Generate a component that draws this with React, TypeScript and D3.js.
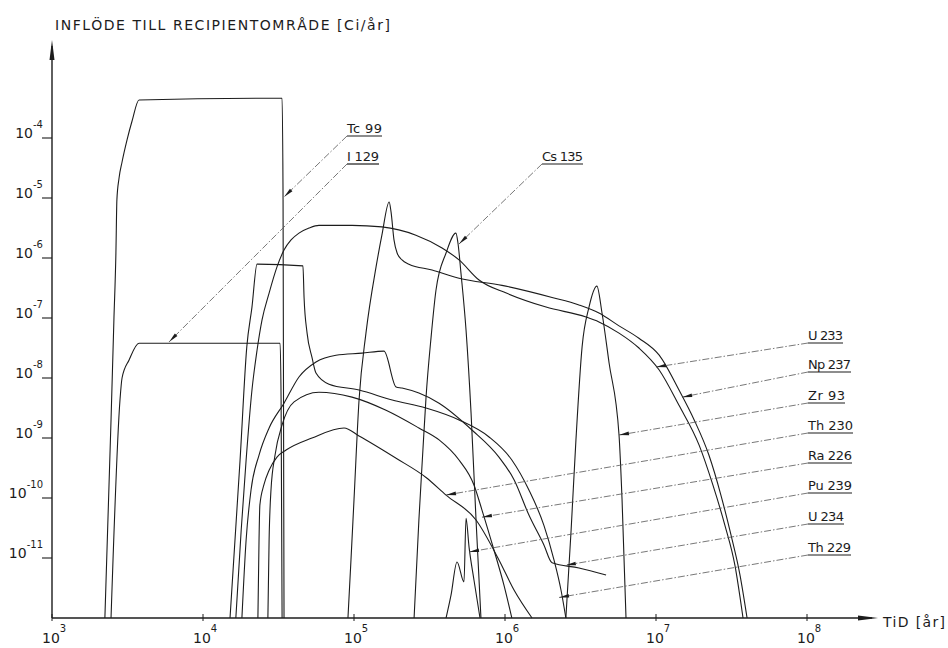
import React from "react";
import * as d3 from "d3";

type Pt = [number, number];

// [tid (år), inflöde (Ci/år)]
const tc99: Pt[] = [
  [2.24e3, 1e-12], [2.46e3, 2.0e-9], [2.57e3, 9.3e-8], [2.65e3, 1.21e-6],
  [2.69e3, 9.3e-6], [2.78e3, 2.15e-5], [2.91e3, 3.98e-5], [3.14e3, 9.3e-5],
  [3.39e3, 1.92e-4], [3.77e3, 4.3e-4], [3.34e4, 4.6e-4], [3.39e4, 9.3e-6],
  [3.44e4, 1e-12],
];
const i129: Pt[] = [
  [2.46e3, 1e-12], [2.82e3, 4.3e-9], [2.91e3, 1e-8], [3.24e3, 2.0e-8],
  [3.77e3, 3.8e-8], [3.24e4, 3.8e-8], [3.29e4, 4.3e-9], [3.34e4, 1e-12],
];
const cs135: Pt[] = [
  [2.5e5, 1e-12], [2.69e5, 4.3e-11], [2.86e5, 6.3e-10], [3.0e5, 4.8e-9],
  [3.24e5, 4.8e-8], [3.49e5, 2.9e-7], [4.07e5, 1.21e-6], [4.73e5, 2.6e-6],
  [4.88e5, 1.78e-6], [5.11e5, 5.6e-7], [5.52e5, 6.3e-8], [5.96e5, 2.6e-9],
  [6.43e5, 4.3e-11], [6.93e5, 1e-12],
];
const u233: Pt[] = [
  [9.12e4, 1e-12], [9.55e4, 9.3e-12], [1.0e5, 9.3e-11], [1.08e5, 4.3e-9],
  [1.2e5, 5.6e-8], [1.4e5, 7.1e-7], [1.53e5, 2.4e-6], [1.71e5, 8.6e-6],
  [1.76e5, 5.8e-6], [1.84e5, 2.0e-6], [1.93e5, 1.21e-6], [2.08e5, 9.3e-7],
  [2.31e5, 7.9e-7], [3.29e5, 6.3e-7], [4.96e5, 4.6e-7], [9.55e5, 3.5e-7],
  [2.05e6, 2.2e-7], [3.09e6, 1.65e-7], [4.19e6, 1.21e-7], [5.69e6, 7.4e-8],
  [7.71e6, 4.6e-8], [1.05e7, 2.4e-8], [1.42e7, 6.3e-9], [1.79e7, 2.0e-9],
  [2.24e7, 5.2e-10], [2.69e7, 1.12e-10], [3.14e7, 2.4e-11], [3.6e7, 5.2e-12],
  [4.01e7, 1e-12],
];
const np237: Pt[] = [
  [1.65e4, 1e-12], [1.79e4, 2.9e-11], [1.93e4, 4.3e-10], [2.11e4, 6.3e-9],
  [2.28e4, 2.9e-8], [2.46e4, 9.3e-8], [2.74e4, 2.6e-7], [3.09e4, 7.1e-7],
  [3.44e4, 1.36e-6], [3.83e4, 2.0e-6], [4.32e4, 2.6e-6], [5.04e4, 3.16e-6],
  [5.86e4, 3.5e-6], [9.7e4, 3.5e-6], [1.53e5, 3.3e-6], [2.57e5, 2.4e-6],
  [3.83e5, 1.47e-6], [4.96e5, 9.3e-7], [6.73e5, 4.3e-7], [1.02e6, 2.6e-7],
  [1.87e6, 1.52e-7], [3.44e6, 1.04e-7], [4.19e6, 8.6e-8], [5.69e6, 5.6e-8],
  [7.71e6, 3.16e-8], [1.05e7, 1.36e-8], [1.42e7, 3.5e-9], [1.93e7, 7.6e-10],
  [2.38e7, 1.65e-10], [2.86e7, 3.5e-11], [3.33e7, 7.6e-12], [3.77e7, 1e-12],
];
const zr93: Pt[] = [
  [2.53e6, 1e-12], [2.74e6, 2.9e-11], [2.95e6, 9.3e-10], [3.24e6, 3.3e-8],
  [3.6e6, 1.52e-7], [4.06e6, 3.4e-7], [4.39e6, 1.21e-7], [4.89e6, 1.78e-8],
  [5.69e6, 1.12e-9], [5.96e6, 9.3e-11], [6.33e6, 1e-12],
];
const th230: Pt[] = [
  [2.31e4, 1e-12], [2.35e4, 2.0e-11], [2.38e4, 7.6e-11], [2.53e4, 1.65e-10],
  [2.74e4, 2.9e-10], [3.09e4, 4.8e-10], [3.55e4, 6.3e-10], [5.27e4, 1.0e-9],
  [8.59e4, 1.47e-9], [1.08e5, 1.08e-9], [1.9e5, 4.6e-10], [3.0e5, 2.2e-10],
  [4.07e5, 1.12e-10], [6.43e5, 4.3e-11], [9.12e5, 9.3e-12], [1.15e6, 2.9e-12],
  [1.51e6, 1e-12],
];
const ra226: Pt[] = [
  [2.69e4, 1e-12], [2.74e4, 2.0e-11], [2.82e4, 1.36e-10], [3.0e4, 5.2e-10],
  [3.34e4, 1.65e-9], [4.01e4, 4.0e-9], [5.86e4, 5.8e-9], [9.7e4, 4.8e-9],
  [1.63e5, 2.9e-9], [2.69e5, 1.47e-9], [3.66e5, 9.3e-10], [4.96e5, 4.3e-10],
  [6.23e5, 1.65e-10], [7.04e5, 6.3e-11], [8.45e5, 1.36e-11], [9.85e5, 3.5e-12],
  [1.11e6, 1e-12],
];
const pu239: Pt[] = [
  [4.07e5, 1e-12], [4.39e5, 2.4e-12], [4.81e5, 8.6e-12], [5.35e5, 4.0e-12],
  [5.52e5, 4.6e-11], [5.78e5, 1.52e-11], [6.23e5, 4.3e-12], [6.83e5, 1e-12],
];
const u234: Pt[] = [
  [1.81e4, 1e-12], [1.93e4, 2.0e-11], [2.08e4, 1.36e-10], [2.35e4, 5.2e-10],
  [2.74e4, 1.47e-9], [3.44e4, 3.8e-9], [4.32e4, 1.04e-8], [5.6e4, 1.85e-8],
  [7.6e4, 2.4e-8], [1.13e5, 2.6e-8], [1.58e5, 2.8e-8], [1.9e5, 7.1e-9],
  [2.08e5, 6.8e-9], [2.69e5, 5.6e-9], [3.66e5, 3.8e-9], [6.04e5, 1.36e-9],
  [9.12e5, 4.8e-10], [1.15e6, 2.0e-10], [1.44e6, 5.2e-11], [1.81e6, 1.65e-11],
  [2.05e6, 8.3e-12], [3.09e6, 6.8e-12], [4.67e6, 5.2e-12],
];
const th229: Pt[] = [
  [1.51e4, 1e-12], [1.76e4, 4.3e-10], [1.95e4, 3.3e-8], [2.11e4, 1.52e-7],
  [2.28e4, 7.9e-7], [4.59e4, 7.4e-7], [4.67e4, 2.2e-7], [4.89e4, 5.6e-8],
  [5.27e4, 2.2e-8], [5.6e4, 1.21e-8], [6.83e4, 7.9e-9], [1.08e5, 6.3e-9],
  [1.79e5, 4.3e-9], [3.0e5, 3.16e-9], [4.96e5, 2.0e-9], [7.84e5, 1.04e-9],
  [1.11e6, 4.3e-10], [1.44e6, 1.36e-10], [1.81e6, 3.5e-11], [2.11e6, 9.3e-12],
  [2.35e6, 2.9e-12], [2.53e6, 1e-12],
];

const curves = [tc99, i129, cs135, u233, np237, zr93, th230, ra226, pu239, u234, th229];

const nuclides = [
  "Tc 99", "I 129", "Cs 135", "U 233", "Np 237", "Zr 93",
  "Th 230", "Ra 226", "Pu 239", "U 234", "Th 229",
];
// pilspetsarnas mål på kurvorna
const arrowTargets: Pt[] = [
  [3.44e4, 1.04e-5], [5.96e3, 4.0e-8], [4.96e5, 1.71e-6], [1.0e7, 1.52e-8],
  [1.49e7, 4.8e-9], [5.69e6, 1.12e-9], [4.07e5, 1.12e-10], [7.04e5, 4.8e-11],
  [5.78e5, 1.26e-11], [2.53e6, 7.6e-12], [2.28e6, 2.2e-12],
];

const xTickValues = [1e3, 1e4, 1e5, 1e6, 1e7, 1e8];
const xTickExps = ["3", "4", "5", "6", "7", "8"];
const yTickValues = [1e-4, 1e-5, 1e-6, 1e-7, 1e-8, 1e-9, 1e-10, 1e-11];
const yTickExps = ["-4", "-5", "-6", "-7", "-8", "-9", "-10", "-11"];

// etikettplacering (px): x, baslinje, bredd
const labelLayout = [
  [347, 133, 35], [347, 161, 32], [542, 161, 41],
  [808, 340, 35], [808, 369, 43], [808, 400, 37], [808, 430, 45],
  [808, 460, 44], [808, 490, 44], [808, 521, 36], [808, 552, 43],
];

function App() {
  const width = 948;
  const height = 648;
  const font = "DejaVu Sans, sans-serif";
  const ink = "#1c1c1c";

  const x = d3.scaleLog().domain([1e3, 1e8]).range([52, 807]);
  const y = d3.scaleLog().domain([1e-12, 1e-3]).range([618, 78]);
  const x0 = x(1e3);
  const y0 = y(1e-12);

  // handritade kurvor: mjuk men utan översväng
  const line = d3
    .line<Pt>()
    .x((d) => x(d[0]))
    .y((d) => y(d[1]))
    .curve(d3.curveMonotoneX);

  return (
    <svg
      width={width}
      height={height}
      style={{ position: "absolute", left: 0, top: 0, background: "#fff" }}
      fontFamily={font}
    >
      <text x={55} y={30} fontSize={14} fill={ink} textLength={335} lengthAdjust="spacing">
        INFLÖDE TILL RECIPIENTOMRÅDE [Ci/år]
      </text>

      <g fill="none" stroke={ink} strokeWidth={1.1} strokeLinejoin="round">
        {curves.map((c, i) => (
          <path key={i} d={line(c) ?? ""} />
        ))}
      </g>

      <g>
        {nuclides.map((name, i) => {
          const [lx, ly, lw] = labelLayout[i];
          const sx = lx;
          const sy = ly + 3;
          const tx = x(arrowTargets[i][0]);
          const ty = y(arrowTargets[i][1]);
          const dx = tx - sx;
          const dy = ty - sy;
          const len = Math.hypot(dx, dy);
          const ux = dx / len;
          const uy = dy / len;
          const bx = tx - ux * 10;
          const by = ty - uy * 10;
          const head = `M${tx},${ty}L${bx - uy * 1.8},${by + ux * 1.8}L${bx + uy * 1.8},${by - ux * 1.8}Z`;
          return (
            <g key={name}>
              <line
                x1={sx}
                y1={sy}
                x2={tx}
                y2={ty}
                stroke="#555"
                strokeWidth={0.8}
                strokeDasharray="7 2 1.5 2"
              />
              <path d={head} fill={ink} />
              <line x1={lx} y1={sy} x2={lx + lw} y2={sy} stroke={ink} strokeWidth={1.2} />
              <text x={lx} y={ly} fontSize={13} fill={ink} textLength={lw} lengthAdjust="spacing">
                {name}
              </text>
            </g>
          );
        })}
      </g>

      <g stroke={ink} strokeWidth={1.4}>
        <line x1={x0} y1={y0} x2={x0} y2={46} />
        <line x1={x0} y1={y0} x2={872} y2={y0} />
      </g>
      <path d={`M${x0},40L${x0 - 2.5},60L${x0 + 2.5},60Z`} fill={ink} />
      <path d={`M878,${y0}L858,${y0 - 2.5}L858,${y0 + 2.5}Z`} fill={ink} />

      <g>
        {yTickValues.map((v, i) => (
          <g key={i}>
            <line x1={x0 - 10} y1={y(v)} x2={x0} y2={y(v)} stroke={ink} strokeWidth={1.1} />
            <text x={43} y={y(v)} textAnchor="end" fontSize={14} fill={ink}>
              10
              <tspan fontSize={10} dy={-10}>
                {yTickExps[i]}
              </tspan>
            </text>
          </g>
        ))}
      </g>

      <g>
        {xTickValues.map((v, i) => (
          <g key={i}>
            <line x1={x(v)} y1={y0 - 4} x2={x(v)} y2={y0 + 3} stroke={ink} strokeWidth={1} />
            <text x={x(v) - 10} y={643} fontSize={14} fill={ink}>
              10
              <tspan fontSize={10} dy={-11}>
                {xTickExps[i]}
              </tspan>
            </text>
          </g>
        ))}
      </g>

      <text x={883} y={627} fontSize={14} fill={ink} textLength={62} lengthAdjust="spacing">
        TiD [år]
      </text>
    </svg>
  );
}

export default App;
